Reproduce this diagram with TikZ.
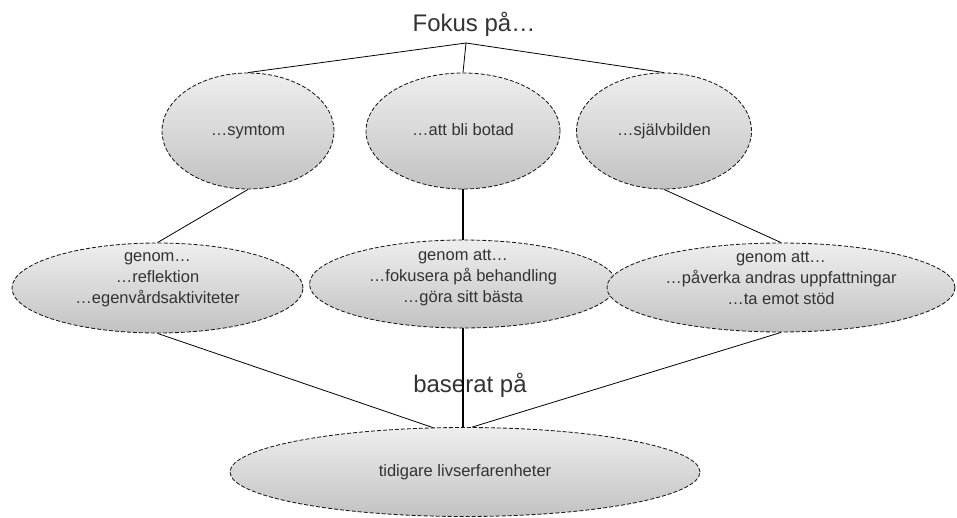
\documentclass[tikz,border=0pt]{standalone}
\usepackage{fontspec}
\setmainfont{Liberation Sans}
\usepackage{xcolor}
\usepackage{tikz}
\usetikzlibrary{shapes.geometric,positioning}
\definecolor{bubbleTop}{HTML}{EEEEEE}
\definecolor{bubbleBottom}{HTML}{C2C2C2}
\definecolor{txtGray}{HTML}{333333}

\begin{document}
\begin{tikzpicture}[x=1pt, y=-1pt,
    bubble/.style={ellipse, draw=black!90, line width=0.85pt,
      dash pattern=on 4pt off 2pt, top color=bubbleTop, bottom color=bubbleBottom,
      inner sep=0pt, text=txtGray, font=\fontsize{16.5}{21}\selectfont, align=center,
      text height=12pt, text depth=3.5pt},
    bubbletext/.style={text=txtGray, font=\fontsize{16.5}{21}\selectfont, align=center},
    caption/.style={text=txtGray, font=\fontsize{24}{28}\selectfont},
    link/.style={draw=black, line width=0.8pt},
    mainlink/.style={draw=black, line width=1.8pt}]

    \useasboundingbox (0,0) rectangle (957,518);

    % === Heading and fork point ===
    \node[caption] (fokus) at (474,24) {Fokus på…};
    \coordinate (fork) at (466,43);

    % === Focus bubbles (top row) ===
    \node[bubble, minimum width=172pt, minimum height=116pt] (symtom) at (248,131) {…symtom};
    \node[bubble, minimum width=194pt, minimum height=116pt] (botad) at (463,131) {…att bli botad};
    \node[bubble, minimum width=175pt, minimum height=116pt] (sjalv) at (664,131) {…självbilden};

    % === Means bubbles (middle row, text sits a bit high) ===
    \node[bubble, minimum width=291pt, minimum height=90pt] (genomA) at (157.5,288) {};
    \node[bubbletext] (genomAtext) at ([yshift=8pt]genomA.center)
      {genom…\\ …reflektion\\ …egenvårdsaktiviteter};
    \node[bubble, minimum width=307pt, minimum height=88pt] (genomB) at (463,284) {};
    \node[bubbletext] (genomBtext) at ([yshift=6pt]genomB.center)
      {genom att…\\ …fokusera på behandling\\ …göra sitt bästa};
    \node[bubble, minimum width=348pt, minimum height=89pt] (genomC) at (781,287.5) {};
    \node[bubbletext] (genomCtext) at ([yshift=9pt]genomC.center)
      {genom att…\\ …påverka andras uppfattningar\\ …ta emot stöd};

    % === Basis (bottom) ===
    \node[caption] (baserat) at (470,385) {baserat på};
    \node[bubble, minimum width=470pt, minimum height=89pt] (base) at (465,472)
      {tidigare livserfarenheter};

    % === Connectors ===
    \draw[link] (fork) -- (symtom.north);
    \draw[link] (fork) -- (botad.north);
    \draw[link] (fork) -- (sjalv.north);
    \draw[link] (symtom.south) -- (genomA.north);
    \draw[link] (sjalv.south) -- (genomC.north);
    \draw[mainlink] (botad.south) -- (botad.south |- genomB.north);
    \draw[link] (genomA.south) -- (base.126);
    \draw[link] (genomC.south) -- (base.81);
    \draw[mainlink] (genomB.south) -- (genomB.south |- base.north);
\end{tikzpicture}
\end{document}
